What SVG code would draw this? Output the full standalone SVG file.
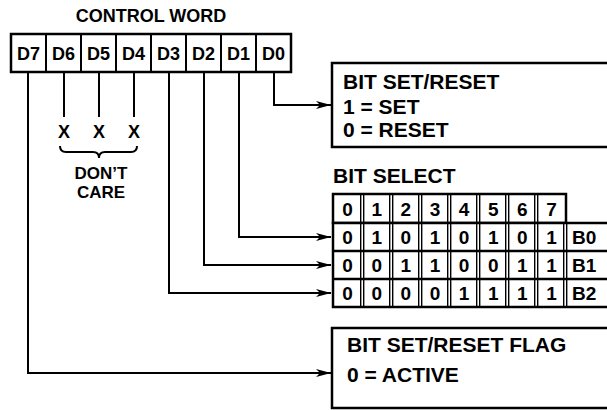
<svg xmlns="http://www.w3.org/2000/svg" width="607" height="410" viewBox="0 0 607 410">
<defs>
<style>
text{font-family:"Liberation Sans",Arial,sans-serif;font-weight:bold;font-size:18px;fill:#000}
.c{text-anchor:middle}
.r{font-size:21px}
.t{font-size:19px}
.s{font-size:17px}
.ln{fill:none;stroke:#000;stroke-width:2}
.bx{fill:#fff;stroke:#000;stroke-width:2.5}
.dv{stroke:#000;stroke-width:1.4}
</style>
<marker id="ah" markerWidth="16" markerHeight="10" refX="15" refY="5" orient="auto" markerUnits="userSpaceOnUse">
<path d="M0,1 L15,5 L0,9 L4,5 Z" fill="#000"/>
</marker>
</defs>
<rect width="607" height="410" fill="#fff"/>
<text class="c" x="151" y="22">CONTROL WORD</text>
<g id="control-word">
<rect class="bx" x="11" y="34" width="280" height="38"/>
<g stroke="#000" stroke-width="2">
<line x1="46" y1="34" x2="46" y2="72"/><line x1="81" y1="34" x2="81" y2="72"/><line x1="116" y1="34" x2="116" y2="72"/><line x1="151" y1="34" x2="151" y2="72"/><line x1="186" y1="34" x2="186" y2="72"/><line x1="221" y1="34" x2="221" y2="72"/><line x1="256" y1="34" x2="256" y2="72"/>
</g>
<text class="c" x="28.5" y="60">D7</text><text class="c" x="63.5" y="60">D6</text><text class="c" x="98.5" y="60">D5</text><text class="c" x="133.5" y="60">D4</text><text class="c" x="168.5" y="60">D3</text><text class="c" x="203.5" y="60">D2</text><text class="c" x="238.5" y="60">D1</text><text class="c" x="273.5" y="60">D0</text>
</g>
<g id="connectors">
<path class="ln" d="M274,72 V105 H331" marker-end="url(#ah)"/>
<path class="ln" d="M239,72 V237 H331" marker-end="url(#ah)"/>
<path class="ln" d="M204,72 V265 H331" marker-end="url(#ah)"/>
<path class="ln" d="M169,72 V293 H331" marker-end="url(#ah)"/>
<path class="ln" d="M28,72 V373 H331" marker-end="url(#ah)"/>
<path class="ln" d="M64,72 V117 M99,72 V117 M134,72 V117"/>
</g>
<g id="dont-care">
<text class="c" x="64" y="138">X</text><text class="c" x="99" y="138">X</text><text class="c" x="134" y="138">X</text>
<path class="ln" d="M60,146 Q60,152 66,152 H93 Q99,152 99,158 Q99,152 105,152 H131 Q137,152 137,146"/>
<text class="c s" x="101" y="179">DON’T</text>
<text class="c s" x="101" y="198">CARE</text>
</g>
<g id="bit-set-reset">
<rect class="bx" x="332" y="63" width="280" height="84"/>
<text class="r" x="343" y="89">BIT SET/RESET</text>
<text class="r" x="343" y="114">1 = SET</text>
<text class="r" x="343" y="137">0 = RESET</text>
</g>
<g id="bit-select">
<text class="r" x="333" y="183">BIT SELECT</text>
<rect class="bx" x="333" y="194" width="233" height="29"/>
<rect class="bx" x="333" y="223" width="280" height="84"/>
<g stroke="#000" stroke-width="2.5">
<line x1="333" y1="251" x2="610" y2="251"/><line x1="333" y1="279" x2="610" y2="279"/>
</g>
<g class="dv">
<path d="M360.7,194 V307 M363.7,194 V307 M389.7,194 V307 M392.7,194 V307 M418.7,194 V307 M421.7,194 V307 M447.7,194 V307 M450.7,194 V307 M476.7,194 V307 M479.7,194 V307 M505.7,194 V307 M508.7,194 V307 M534.7,194 V307 M537.7,194 V307 M563.7,223 V307 M566.7,223 V307"/>
</g>
<g class="t">
<text class="c t" x="347.6" y="216">0</text><text class="c t" x="376.8" y="216">1</text><text class="c t" x="405.9" y="216">2</text><text class="c t" x="435" y="216">3</text><text class="c t" x="464.1" y="216">4</text><text class="c t" x="493.2" y="216">5</text><text class="c t" x="522.4" y="216">6</text><text class="c t" x="551.5" y="216">7</text>
<text class="c t" x="347.6" y="244">0</text><text class="c t" x="376.8" y="244">1</text><text class="c t" x="405.9" y="244">0</text><text class="c t" x="435" y="244">1</text><text class="c t" x="464.1" y="244">0</text><text class="c t" x="493.2" y="244">1</text><text class="c t" x="522.4" y="244">0</text><text class="c t" x="551.5" y="244">1</text><text class="t" x="572" y="244">B0</text>
<text class="c t" x="347.6" y="272">0</text><text class="c t" x="376.8" y="272">0</text><text class="c t" x="405.9" y="272">1</text><text class="c t" x="435" y="272">1</text><text class="c t" x="464.1" y="272">0</text><text class="c t" x="493.2" y="272">0</text><text class="c t" x="522.4" y="272">1</text><text class="c t" x="551.5" y="272">1</text><text class="t" x="572" y="272">B1</text>
<text class="c t" x="347.6" y="300">0</text><text class="c t" x="376.8" y="300">0</text><text class="c t" x="405.9" y="300">0</text><text class="c t" x="435" y="300">0</text><text class="c t" x="464.1" y="300">1</text><text class="c t" x="493.2" y="300">1</text><text class="c t" x="522.4" y="300">1</text><text class="c t" x="551.5" y="300">1</text><text class="t" x="572" y="300">B2</text>
</g>
</g>
<g id="bit-set-reset-flag">
<rect class="bx" x="332" y="328" width="280" height="80"/>
<text class="r" x="347" y="352">BIT SET/RESET FLAG</text>
<text class="r" x="347" y="382">0 = ACTIVE</text>
</g>
</svg>
